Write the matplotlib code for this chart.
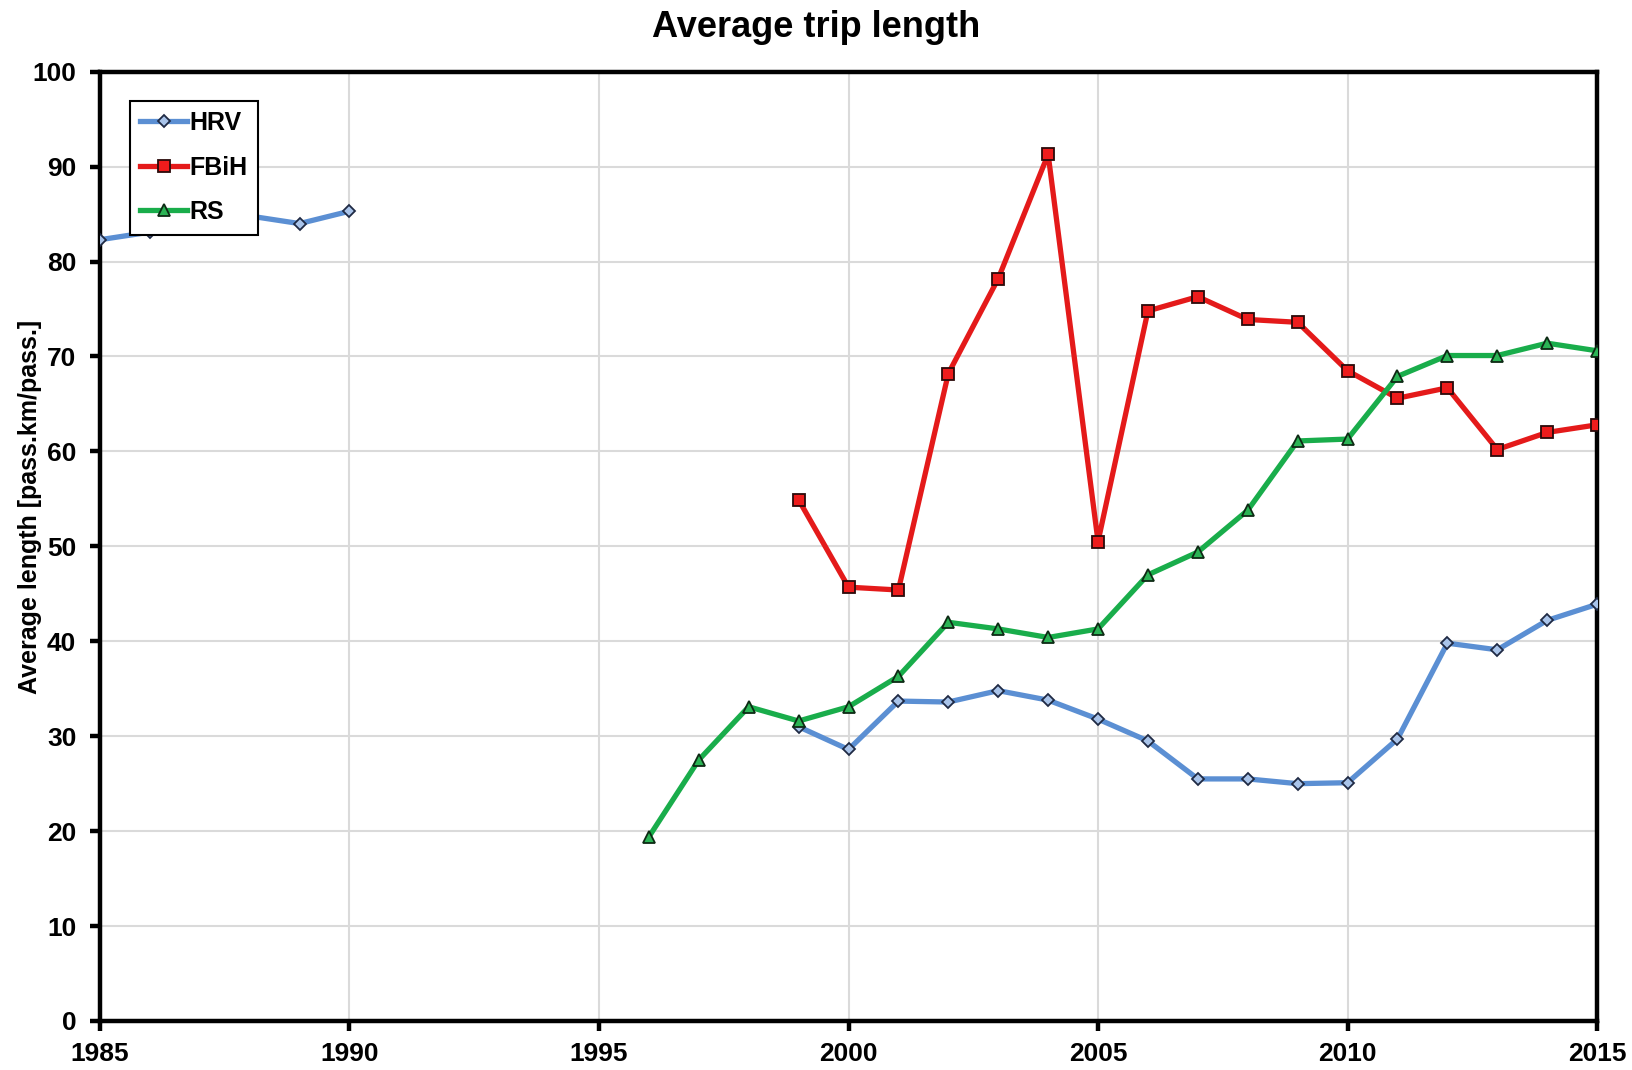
import numpy as np
import matplotlib
matplotlib.use("Agg")
import matplotlib.pyplot as plt

plt.rcParams['font.family'] = ['Liberation Sans', 'DejaVu Sans']
plt.rcParams['font.weight'] = 'bold'

# ---- data ----
hrv_years_a = [1985, 1986, 1987, 1988, 1989, 1990]
hrv_vals_a = [82.3, 83.1, 84.0, 84.8, 84.0, 85.3]
hrv_years_b = list(range(1999, 2016))
hrv_vals_b = [31.0, 28.6, 33.7, 33.6, 34.8, 33.8, 31.8, 29.5, 25.5, 25.5,
              25.0, 25.1, 29.7, 39.8, 39.1, 42.2, 43.9]

fbih_years = list(range(1999, 2016))
fbih_vals = [54.9, 45.7, 45.4, 68.2, 78.2, 91.3, 50.5, 74.8, 76.3, 73.9,
             73.6, 68.5, 65.6, 66.7, 60.2, 62.0, 62.8]

rs_years = list(range(1996, 2016))
rs_vals = [19.4, 27.5, 33.1, 31.6, 33.1, 36.3, 42.0, 41.3, 40.4, 41.3,
           47.0, 49.4, 53.8, 61.1, 61.3, 67.9, 70.1, 70.1, 71.4, 70.6]

x_ticks = [1985, 1990, 1995, 2000, 2005, 2010, 2015]
y_ticks = list(range(0, 101, 10))

# ---- HRV has a gap between 1990 and 1999 ----
hrv_years = hrv_years_a + [np.nan] + hrv_years_b
hrv_vals = hrv_vals_a + [np.nan] + hrv_vals_b

fig = plt.figure(figsize=(16.33, 10.70), dpi=100)
ax = fig.add_axes([0.0612, 0.0458, 0.9168, 0.8872])

lw = 3.8
ax.plot(hrv_years, hrv_vals, color='#5b8fd3', lw=lw, marker='D', ms=6.5,
        mfc='#a9c4ea', mec='#1f2a44', mew=1.3, label='HRV', zorder=3)
ax.plot(fbih_years, fbih_vals, color='#e41a1a', lw=lw, marker='s', ms=9,
        mfc='#ee1c1c', mec='#2a0a0a', mew=1.3, label='FBiH', zorder=3)
ax.plot(rs_years, rs_vals, color='#19ad4b', lw=lw, marker='^', ms=9,
        mfc='#2bb455', mec='#0d2a14', mew=1.3, label='RS', zorder=3)

ax.set_xlim(1985, 2015)
ax.set_ylim(0, 100)
ax.set_xticks(x_ticks)
ax.set_yticks(y_ticks)
ax.grid(True, color='#dadada', lw=1.5, zorder=0)
ax.set_axisbelow(True)

for s in ax.spines.values():
    s.set_linewidth(3.2)
    s.set_color('black')

ax.tick_params(axis='both', direction='out', length=7, width=3.2,
               labelsize=19, colors='black')
ax.tick_params(axis='x', pad=8)
ax.tick_params(axis='y', pad=10)
for lab in ax.get_xticklabels() + ax.get_yticklabels():
    lab.set_fontweight('bold')

ax.set_ylabel('Average length [pass.km/pass.]', fontsize=18,
              fontweight='bold')
ax.yaxis.set_label_coords(-0.0387, 0.542)

fig.text(0.5, 1 - 37 / 1070, 'Average trip length', fontsize=26,
         fontweight='bold', ha='center', va='baseline')

leg = ax.legend(loc='upper left', bbox_to_anchor=(0.020, 0.9694),
                fontsize=18, frameon=True, fancybox=False, framealpha=1,
                handlelength=1.85, handletextpad=0.1, borderpad=0.42,
                labelspacing=0.82, borderaxespad=0)
leg.get_frame().set_edgecolor('black')
leg.get_frame().set_facecolor('white')
leg.get_frame().set_linewidth(1.5)
leg.set_zorder(5)
for t in leg.get_texts():
    t.set_fontweight('bold')

fig.savefig('out.png', dpi=100)
